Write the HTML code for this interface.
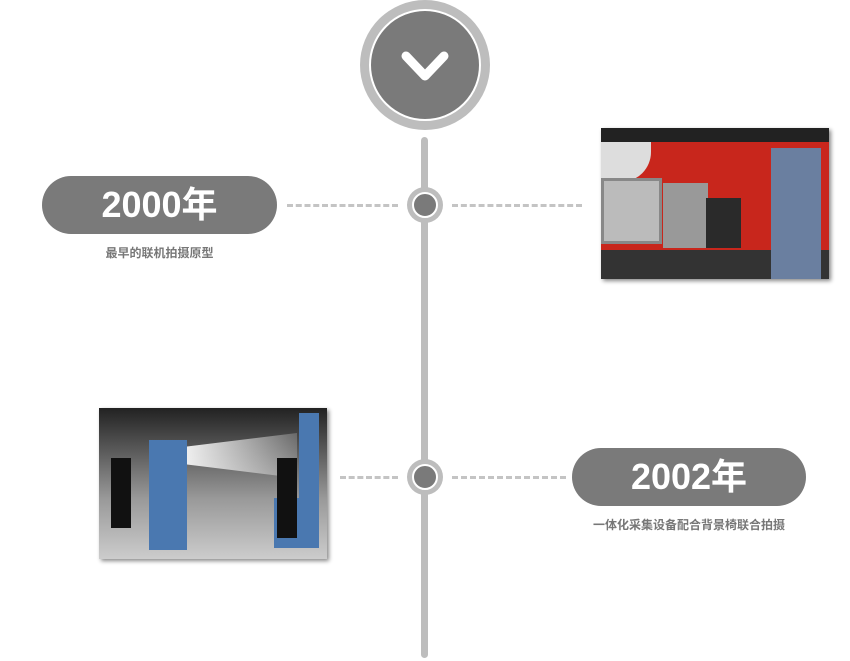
<!DOCTYPE html>
<html><head><meta charset="utf-8"><style>
body{margin:0;width:850px;height:661px;background:#fff;position:relative;overflow:hidden;font-family:"Liberation Sans","Noto Sans CJK SC",sans-serif}
.a{position:absolute}
.pill{position:absolute;background:#7a7a7a;border-radius:30px;color:#fff;font-weight:bold;font-size:36px;text-align:center;line-height:58px;height:58px}
.sub{position:absolute;color:#777;font-size:12px;font-weight:bold;text-align:center}
.dash{position:absolute;height:0;border-top:3px dashed #c4c4c4}
.node{position:absolute;width:36px;height:36px;border-radius:50%;background:#bdbdbd}
.node div{position:absolute;left:5px;top:5px;width:22px;height:22px;border-radius:50%;background:#7a7a7a;border:2px solid #fff}
</style></head><body>
<div class="a" style="left:421px;top:137px;width:7px;height:521px;background:#bdbdbd;border-radius:4px"></div>
<div class="a" style="left:360px;top:0;width:130px;height:130px;border-radius:50%;background:#bdbdbd"></div>
<div class="a" style="left:369px;top:9px;width:108px;height:108px;border-radius:50%;background:#7a7a7a;border:2px solid #fff"></div>
<svg class="a" style="left:400px;top:50px" width="50" height="36"><polyline points="6,6 25,26 44,6" fill="none" stroke="#fff" stroke-width="9" stroke-linecap="round" stroke-linejoin="round"/></svg>

<div class="dash" style="left:287px;top:204px;width:111px"></div>
<div class="dash" style="left:452px;top:204px;width:130px"></div>
<div class="node" style="left:407px;top:187px"><div></div></div>
<div class="pill" style="left:42px;top:176px;width:235px">2000年</div>
<div class="sub" style="left:42px;top:244px;width:235px">最早的联机拍摄原型</div>

<div class="a" style="left:601px;top:128px;width:228px;height:151px;background:#c8261c;box-shadow:2px 2px 4px #888;overflow:hidden">
<div class="a" style="left:0;top:0;width:228px;height:14px;background:#222"></div>
<div class="a" style="left:0;top:14px;width:50px;height:40px;background:#ddd;border-radius:0 0 30px 0"></div>
<div class="a" style="left:0;top:50px;width:55px;height:60px;background:#bbb;border:3px solid #888"></div>
<div class="a" style="left:62px;top:55px;width:45px;height:65px;background:#999"></div>
<div class="a" style="left:0;top:122px;width:228px;height:29px;background:#333"></div>
<div class="a" style="left:170px;top:20px;width:50px;height:131px;background:#6a7fa0"></div>
<div class="a" style="left:105px;top:70px;width:35px;height:50px;background:#2a2a2a"></div>
</div>

<div class="dash" style="left:340px;top:476px;width:58px"></div>
<div class="dash" style="left:452px;top:476px;width:114px"></div>
<div class="node" style="left:407px;top:459px"><div></div></div>
<div class="pill" style="left:572px;top:448px;width:234px">2002年</div>
<div class="sub" style="left:572px;top:516px;width:234px">一体化采集设备配合背景椅联合拍摄</div>

<div class="a" style="left:99px;top:408px;width:228px;height:151px;background:linear-gradient(#222,#999 60%,#ccc);box-shadow:2px 2px 4px #888;overflow:hidden">
<div class="a" style="left:50px;top:32px;width:38px;height:110px;background:#4a78b0"></div>
<div class="a" style="left:88px;top:25px;width:110px;height:45px;background:linear-gradient(90deg,#eee,rgba(255,255,255,0.2));clip-path:polygon(0 30%,100% 0,100% 100%,0 70%)"></div>
<div class="a" style="left:175px;top:90px;width:42px;height:50px;background:#4a78b0"></div>
<div class="a" style="left:200px;top:5px;width:20px;height:135px;background:#4a78b0"></div>
<div class="a" style="left:12px;top:50px;width:20px;height:70px;background:#111"></div>
<div class="a" style="left:178px;top:50px;width:20px;height:80px;background:#111"></div>
</div>
</body></html>
